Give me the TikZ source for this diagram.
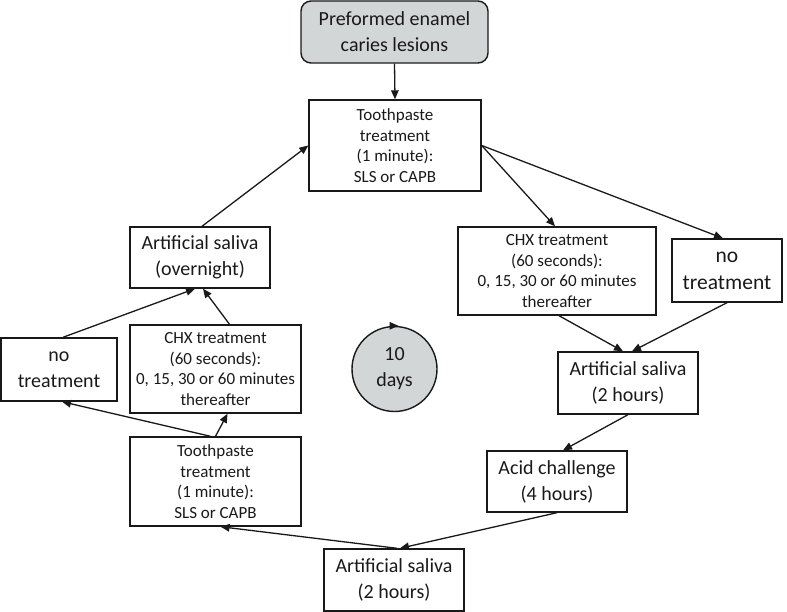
\documentclass[tikz,border=0pt]{standalone}
\usepackage{fontspec}
\setmainfont{Carlito}
\usetikzlibrary{arrows.meta,positioning}
\definecolor{boxgray}{RGB}{210,214,214}
\definecolor{ink}{RGB}{25,25,25}
\tikzset{
  box/.style={draw=ink, line width=1.4pt, inner sep=0pt, align=center, text=ink},
  big/.style={font=\fontsize{20}{26}\selectfont},
  small/.style={font=\fontsize{17}{20.5}\selectfont},
  arr/.style={draw=ink, line width=1.3pt, -{Triangle[length=9pt,width=7.5pt]}},
}
\begin{document}
\begin{tikzpicture}[x=1pt,y=-1pt]
\useasboundingbox (0,0) rectangle (787,612);
\node[box,big,fill=boxgray,rounded corners=10pt,minimum width=187pt,minimum height=62pt] (pre) at (394.5,32) {Preformed enamel\\caries lesions};
\node[box,small,minimum width=172pt,minimum height=91pt] (tpT) at (395,145.5) {Toothpaste\\treatment\\(1 minute):\\SLS or CAPB};
\node[box,small,minimum width=198pt,minimum height=88pt] (chxR) at (557,271) {CHX treatment\\(60 seconds):\\0, 15, 30 or 60 minutes\\thereafter};
\node[box,font=\fontsize{21.5}{27}\selectfont,minimum width=110pt,minimum height=63pt] (noR) at (727,270.5) {no\\treatment};
\node[box,big,minimum width=140pt,minimum height=62pt] (asR) at (628,383) {Artificial saliva\\(2 hours)};
\node[box,big,minimum width=140pt,minimum height=61pt] (acid) at (557,481.5) {Acid challenge\\(4 hours)};
\node[box,big,minimum width=140pt,minimum height=62pt] (asB) at (394,580) {Artificial saliva\\(2 hours)};
\node[box,small,minimum width=171pt,minimum height=89pt] (tpB) at (215.5,481.5) {Toothpaste\\treatment\\(1 minute):\\SLS or CAPB};
\node[box,small,minimum width=171pt,minimum height=88pt] (chxL) at (215.5,369) {CHX treatment\\(60 seconds):\\0, 15, 30 or 60 minutes\\thereafter};
\node[box,big,minimum width=116pt,minimum height=63pt] (noL) at (59,369.5) {no\\treatment};
\node[box,big,minimum width=140pt,minimum height=61pt] (asO) at (200,257.5) {Artificial saliva\\(overnight)};
\node[box,big,fill=boxgray,circle,minimum size=85pt] (circ) at (394.5,369) {10\\days};
\draw[arr] ([xshift=-5pt]circ.north) -- ([xshift=4pt]circ.north);
\draw[arr] (pre.south) -- (tpT.north);
\draw[arr] (tpT.east) -- ([xshift=-2pt]chxR.north);
\draw[arr] (tpT.east) -- ([xshift=-4pt]noR.north);
\draw[arr] ([xshift=2pt]chxR.south) -- ([xshift=-5pt]asR.north);
\draw[arr] (noR.south) -- ([xshift=4pt]asR.north);
\draw[arr] (asR.south) -- ([xshift=6pt]acid.north);
\draw[arr] (acid.south) -- ([xshift=6pt]asB.north);
\draw[arr] ([xshift=3pt]asB.north) -- ([xshift=5pt]tpB.south);
\draw[arr] ([xshift=-5pt]tpB.north) -- ([xshift=3pt]noL.south);
\draw[arr] (tpB.north) -- ([xshift=12pt]chxL.south);
\draw[arr] ([xshift=14pt]chxL.north) -- ([xshift=3pt]asO.south);
\draw[arr] ([xshift=4pt]noL.north) -- ([xshift=-5pt]asO.south);
\draw[arr] ([xshift=2pt]asO.north) -- (tpT.west);
\end{tikzpicture}
\end{document}
